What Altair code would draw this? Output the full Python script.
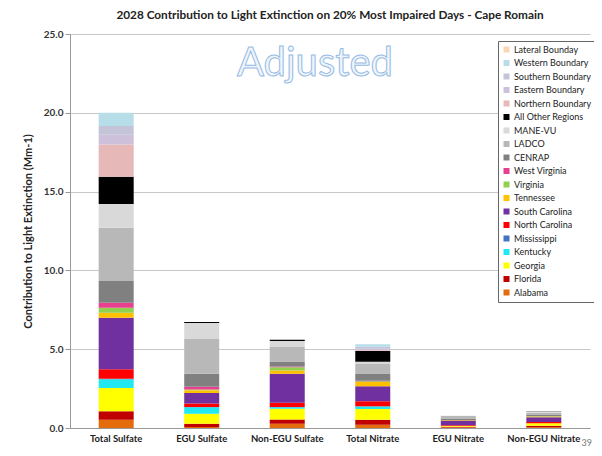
import altair as alt
import pandas as pd

categories = ["Total Sulfate", "EGU Sulfate", "Non-EGU Sulfate", "Total Nitrate", "EGU Nitrate", "Non-EGU Nitrate"]

# stack order: bottom -> top
series = ["Alabama", "Florida", "Georgia", "Kentucky", "Mississippi", "North Carolina",
          "South Carolina", "Tennessee", "Virginia", "West Virginia", "CENRAP", "LADCO",
          "MANE-VU", "All Other Regions", "Northern Boundary", "Eastern Boundary",
          "Southern Boundary", "Western Boundary", "Lateral Bounday"]
colors = ["#E46C0A", "#C00000", "#FFFF00", "#22E8F2", "#4472C4", "#FF0000",
          "#7030A0", "#FFC000", "#92D050", "#E8408F", "#808080", "#B8B8B8",
          "#D9D9D9", "#000000", "#E6B8B7", "#CCC0DA", "#C4C4D8", "#B7DEE8", "#FAD7B5"]

alabama = [0.53, 0.07, 0.27, 0.20, 0.03, 0.05]
florida = [0.53, 0.20, 0.27, 0.32, 0.05, 0.10]
georgia = [1.48, 0.63, 0.68, 0.68, 0.05, 0.15]
kentucky = [0.56, 0.42, 0.10, 0.17, 0.00, 0.00]
mississippi = [0.02, 0.01, 0.01, 0.01, 0.00, 0.00]
north_carolina = [0.60, 0.22, 0.28, 0.32, 0.05, 0.08]
south_carolina = [3.27, 0.67, 1.84, 0.95, 0.30, 0.30]
tennessee = [0.32, 0.17, 0.20, 0.27, 0.02, 0.05]
virginia = [0.32, 0.05, 0.20, 0.05, 0.01, 0.02]
west_virginia = [0.32, 0.17, 0.05, 0.03, 0.00, 0.00]
cenrap = [1.37, 0.84, 0.32, 0.46, 0.10, 0.10]
ladco = [3.38, 2.20, 0.95, 0.60, 0.15, 0.12]
mane_vu = [1.52, 1.02, 0.35, 0.14, 0.02, 0.08]
all_other = [1.72, 0.05, 0.08, 0.68, 0.00, 0.02]
northern = [2.05, 0.00, 0.00, 0.05, 0.00, 0.00]
eastern = [0.62, 0.00, 0.00, 0.10, 0.00, 0.00]
southern = [0.55, 0.00, 0.00, 0.13, 0.00, 0.00]
western = [0.84, 0.00, 0.00, 0.15, 0.00, 0.00]
lateral = [0.00, 0.00, 0.00, 0.00, 0.00, 0.00]

values = [alabama, florida, georgia, kentucky, mississippi, north_carolina, south_carolina,
          tennessee, virginia, west_virginia, cenrap, ladco, mane_vu, all_other, northern,
          eastern, southern, western, lateral]

rows = []
for i, (s, vals) in enumerate(zip(series, values)):
    for c, v in zip(categories, vals):
        rows.append({"Category": c, "Source": s, "Value": v, "order": i})
df = pd.DataFrame(rows)

legend_order = list(reversed(series))
legend_colors = list(reversed(colors))

FONT = "Lato"

bars = alt.Chart(df).mark_bar(size=35).encode(
    x=alt.X("Category:N", sort=categories,
            scale=alt.Scale(paddingInner=0.6, paddingOuter=0.34),
            axis=alt.Axis(title=None, labelAngle=0, labelFontWeight="bold", labelFontSize=9.5,
                          labelColor="#222", ticks=False, domainColor="#999", labelPadding=5)),
    y=alt.Y("Value:Q", stack="zero",
            scale=alt.Scale(domain=[0, 25]),
            axis=alt.Axis(title="Contribution to Light Extinction (Mm-1)", values=[0, 5, 10, 15, 20, 25],
                          format=".1f", labelFontSize=10, labelFontWeight="bold", labelColor="#333",
                          titleFontSize=11, titleFontWeight="bold", titleColor="#222",
                          gridColor="#C8C8C8", domainColor="#999", tickColor="#999", tickSize=5,
                          titlePadding=10)),
    color=alt.Color("Source:N", scale=alt.Scale(domain=legend_order, range=legend_colors),
                    legend=alt.Legend(title=None, orient="none", legendX=428, legendY=7,
                                      symbolType="square", symbolSize=36, symbolStrokeWidth=0,
                                      labelFontSize=9, labelColor="#222", rowPadding=3.5,
                                      symbolOffset=0, labelOffset=3,
                                      strokeColor="#666", fillColor="white", padding=4,
                                      labelLimit=120)),
    order=alt.Order("order:Q", sort="ascending"),
)

wm = alt.Chart(pd.DataFrame({"t": ["Adjusted"]})).mark_text(
    font=FONT, fontSize=40, fill="#F0F5FB", stroke="#95BBE4", strokeWidth=1, align="center",
    baseline="middle"
).encode(text="t:N", x=alt.value(245), y=alt.value(30))

page = alt.Chart(pd.DataFrame({"t": ["39"]})).mark_text(
    font=FONT, fontSize=9, color="#777", align="right", baseline="middle", dx=2, dy=15
).encode(text="t:N", x=alt.value("width"), y=alt.value("height"))

chart = alt.layer(bars, wm, page).properties(
    width=586, height=440,
    autosize=alt.AutoSizeParams(type="fit", contains="padding"),
    padding={"left": 14, "top": 2, "right": 2, "bottom": 0},
    title=alt.Title("2028 Contribution to Light Extinction on 20% Most Impaired Days - Cape Romain",
                    fontSize=11.8, fontWeight="bold", color="#222", offset=7, font=FONT),
).configure(font=FONT).configure_view(stroke=None)

chart.save("out.html", embed_options={"renderer": "svg", "actions": False})
